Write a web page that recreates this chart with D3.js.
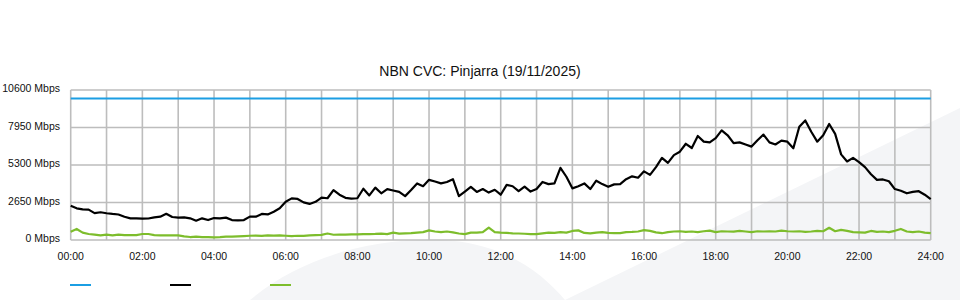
<!DOCTYPE html>
<html>
<head>
<meta charset="utf-8">
<script src="https://cdn.jsdelivr.net/npm/d3@7"></script>
<style>
    body { margin: 0; background: #fff; }
    text { font-family: "Liberation Sans", Arial, sans-serif; fill: #111; }
</style>
</head>
<body>
<div id="chart"></div>
<script>
// data: one point every 10 minutes, 00:00 -> 24:00
var stepMinutes = 10;

var capacity = 10000;

var traffic = [
    2420, 2240, 2170, 2150, 1900, 1960, 1890, 1840, 1800, 1640, 1530, 1530, 1510, 1520, 1600, 1650, 1850, 1625, 1580, 1600, 1530, 1365, 1530, 1410, 1550,
    1530, 1580, 1410, 1390, 1410, 1650, 1650, 1840, 1810, 2000, 2240, 2700, 2940, 2900, 2660, 2550, 2700, 3000, 2950, 3530, 3200, 2980, 2920, 2950,
    3620, 3150, 3700, 3300, 3600, 3500, 3400, 3100, 3530, 4000, 3800, 4250, 4130, 4000, 4100, 4300, 3100, 3420, 3750, 3400, 3600, 3350, 3550, 3200,
    3900, 3800, 3450, 3770, 3420, 3600, 4100, 3950, 4000, 5100, 4470, 3650, 3800, 4000, 3600, 4190, 3950, 3760, 3930, 3950, 4300, 4500, 4400, 4850,
    4600, 5150, 5800, 5450, 6000, 6240, 6800, 6500, 7350, 6950, 6900, 7200, 7750, 7400, 6850, 6900, 6750, 6600, 7050, 7450, 6900, 6750, 7020, 6950,
    6480, 8000, 8450, 7650, 6950, 7400, 8200, 7500, 6050, 5550, 5800, 5500, 5150, 4650, 4250, 4280, 4150, 3600, 3480, 3300, 3400, 3450, 3200, 2880
];

var upload = [
    590, 780, 520, 425, 380, 330, 380, 330, 380, 350, 350, 350, 425, 425, 350, 330, 330, 330, 330, 260, 210, 235, 210, 210, 190,
    200, 235, 240, 260, 280, 300, 310, 290, 320, 310, 320, 300, 280, 300, 290, 320, 340, 360, 460, 370, 380, 380, 400, 400,
    410, 420, 430, 450, 420, 520, 450, 470, 480, 520, 560, 680, 600, 560, 600, 540, 460, 420, 520, 520, 560, 880, 560, 520,
    500, 470, 460, 440, 420, 420, 470, 520, 510, 560, 520, 640, 680, 500, 470, 520, 560, 500, 480, 490, 560, 570, 600, 700,
    640, 540, 480, 560, 600, 620, 580, 600, 560, 620, 660, 560, 620, 600, 590, 640, 600, 560, 620, 600, 620, 600, 660, 620,
    600, 620, 580, 600, 640, 620, 860, 620, 720, 650, 560, 540, 520, 640, 580, 600, 560, 650, 780, 600, 560, 600, 520, 480
];

var xTickLabels = ["00:00", "02:00", "04:00", "06:00", "08:00", "10:00", "12:00",
                   "14:00", "16:00", "18:00", "20:00", "22:00", "24:00"];
var yTicks = [0, 2650, 5300, 7950, 10600];

var seriesColors = ["#1b9ee3", "#000000", "#7dbd2c"];

var width = 960, height = 300;
var plot = { left: 70.7, right: 930.7, top: 90, bottom: 240 };

var svg = d3.select("#chart")
    .append("svg")
    .attr("width", width)
    .attr("height", height);

// faint background watermark
svg.append("path")
    .attr("d", "M250,300 C300,258 370,238 440,240 C500,242 540,270 565,300 Z")
    .attr("fill", "#f4f5f7");
svg.append("path")
    .attr("d", "M565,300 L960,108 L960,300 Z")
    .attr("fill", "#f4f5f7");

// scales
var xScale = d3.scaleLinear()
    .domain([0, 24 * 60])
    .range([plot.left, plot.right]);

var yScale = d3.scaleLinear()
    .domain([0, 10600])
    .range([plot.bottom, plot.top]);

// grid
var hours = d3.range(0, 25);
svg.append("g")
    .selectAll("line")
    .data(hours)
    .enter()
    .append("line")
    .attr("x1", d => xScale(d * 60))
    .attr("x2", d => xScale(d * 60))
    .attr("y1", plot.top)
    .attr("y2", plot.bottom)
    .attr("stroke", "#bdbdbd")
    .attr("stroke-width", 1.6);

svg.append("g")
    .selectAll("line")
    .data(yTicks)
    .enter()
    .append("line")
    .attr("x1", plot.left)
    .attr("x2", plot.right)
    .attr("y1", d => yScale(d))
    .attr("y2", d => yScale(d))
    .attr("stroke", "#bdbdbd")
    .attr("stroke-width", 1.6);

// title
svg.append("text")
    .attr("text-anchor", "middle")
    .attr("x", 480)
    .attr("y", 76)
    .style("font-size", "14px")
    .text("NBN CVC: Pinjarra (19/11/2025)");

// y axis labels
svg.append("g")
    .selectAll("text")
    .data(yTicks)
    .enter()
    .append("text")
    .attr("text-anchor", "end")
    .attr("x", 60)
    .attr("y", d => yScale(d) + 2)
    .style("font-size", "10.5px")
    .text(d => d + " Mbps");

// x axis labels
svg.append("g")
    .selectAll("text")
    .data(xTickLabels)
    .enter()
    .append("text")
    .attr("text-anchor", "middle")
    .attr("x", (d, i) => xScale(i * 120))
    .attr("y", 260)
    .style("font-size", "10.5px")
    .text(d => d);

// lines
var line = d3.line()
    .x((d, i) => xScale(i * stepMinutes))
    .y(d => yScale(d));

var capacityLine = traffic.map(() => capacity);

[capacityLine, traffic, upload].forEach(function (series, i) {
    svg.append("path")
        .datum(series)
        .attr("fill", "none")
        .attr("stroke", seriesColors[i])
        .attr("stroke-width", 2.2)
        .attr("stroke-linejoin", "round")
        .attr("d", line);
});

// legend (swatches only)
svg.append("g")
    .selectAll("line")
    .data(seriesColors)
    .enter()
    .append("line")
    .attr("x1", (d, i) => 70 + i * 100)
    .attr("x2", (d, i) => 91 + i * 100)
    .attr("y1", 285)
    .attr("y2", 285)
    .attr("stroke", d => d)
    .attr("stroke-width", 2);
</script>
</body>
</html>
